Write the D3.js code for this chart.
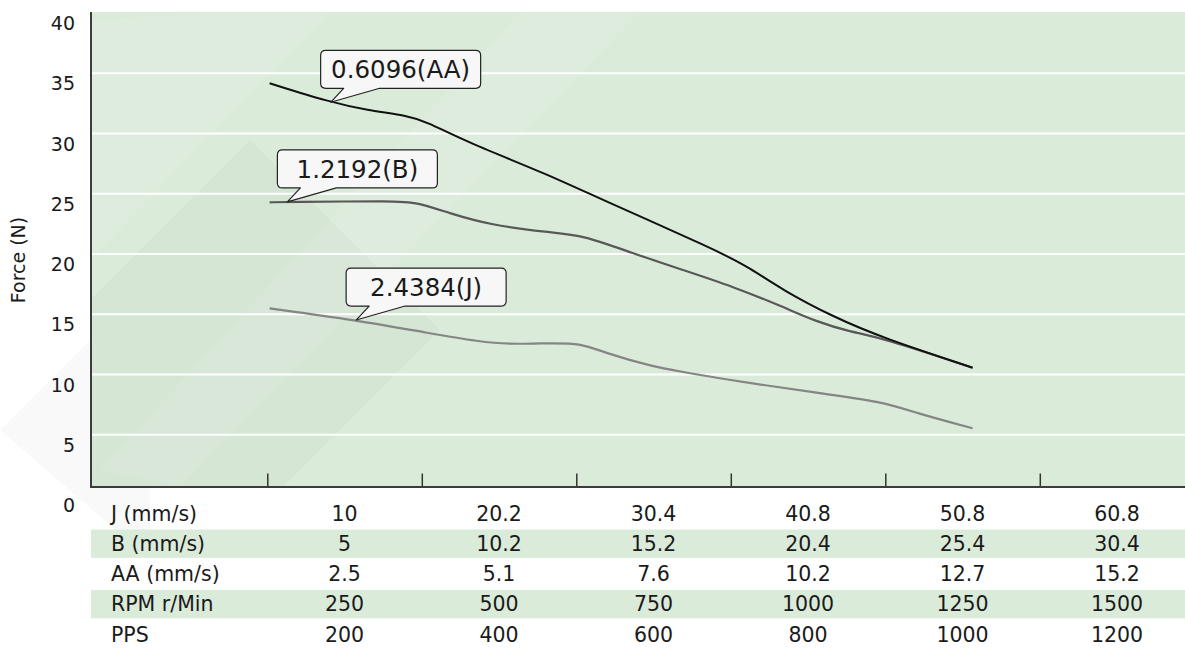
<!DOCTYPE html>
<html>
<head>
<meta charset="utf-8">
<script src="https://cdn.jsdelivr.net/npm/d3@7"></script>
<style>
  html, body { margin: 0; padding: 0; background: #ffffff; }
  svg { display: block; }
  text { font-family: "DejaVu Sans", sans-serif; fill: #1a1a1a; }
</style>
</head>
<body>
<svg id="chart" width="1185" height="648"></svg>
<script>
// ---------------- data ----------------
// x values are pulse rates (PPS); y values are force (N)
const seriesNames = ["AA", "B", "J"];
const labelTexts = ["0.6096(AA)", "1.2192(B)", "2.4384(J)"];
const anchorIndex = [1, 1, 1];

const forceAA = [
  [103, 34.17], [182, 32.59], [228, 31.95], [284, 31.45], [306, 30.98],
  [357, 29.32], [465, 26.56], [534, 24.48], [681, 20.33], [725, 18.84],
  [767, 17.01], [832, 14.80], [897, 13.03], [1013, 10.56]
];
const forceB = [
  [103, 24.29], [126, 24.32], [267, 24.40], [293, 24.29], [336, 23.38],
  [388, 22.41], [465, 21.78], [508, 21.58], [573, 20.06], [638, 18.67],
  [703, 17.29], [767, 15.63], [811, 14.38], [854, 13.55], [897, 13.03],
  [1013, 10.56]
];
const forceJ = [
  [103, 15.49], [215, 14.52], [310, 13.42], [375, 12.72], [414, 12.51],
  [452, 12.59], [495, 12.59], [513, 12.39], [547, 11.62], [591, 10.79],
  [634, 10.23], [725, 9.27], [811, 8.49], [897, 7.74], [941, 6.78],
  [1013, 5.54]
];

const yTicks = [0, 5, 10, 15, 20, 25, 30, 35, 40];
const xTickPPS = [100, 300, 500, 700, 900, 1100];

const rowLabels = ["J (mm/s)", "B (mm/s)", "AA (mm/s)", "RPM r/Min", "PPS"];
const speedJ = [10, 20.2, 30.4, 40.8, 50.8, 60.8];
const speedB = [5, 10.2, 15.2, 20.4, 25.4, 30.4];
const speedAA = [2.5, 5.1, 7.6, 10.2, 12.7, 15.2];
const rpm = [250, 500, 750, 1000, 1250, 1500];
const pps = [200, 400, 600, 800, 1000, 1200];

// ---------------- layout ----------------
const W = 1185, H = 648;
const plotLeft = 91, plotTop = 12, plotBottom = 487, plotRight = W;
const green = "#dbebda";
const lineColors = { AA: "#111111", B: "#585858", J: "#858585" };

const svg = d3.select("#chart");

const x = d3.scaleLinear().domain([100, 1300]).range([267.3, 1194.3]);
const y = d3.scaleLinear().domain([0, 40]).range([495, 13]);
const rowScale = d3.scaleBand().domain(rowLabels).range([498.4, 498.4 + 30.2 * rowLabels.length]);

// faint watermark outside the plot (left)
svg.append("path")
  .attr("d", "M0,430 L150,280 L150,560 Z")
  .attr("fill", "#000000").attr("opacity", 0.025);

// plot background
svg.append("rect")
  .attr("x", plotLeft).attr("y", plotTop)
  .attr("width", plotRight - plotLeft).attr("height", plotBottom - plotTop)
  .attr("fill", green);

// faint watermark shapes (clipped to the plot)
svg.append("clipPath").attr("id", "plotClip")
  .append("rect").attr("x", plotLeft).attr("y", plotTop)
  .attr("width", plotRight - plotLeft).attr("height", plotBottom - plotTop);
const wm = svg.append("g").attr("clip-path", "url(#plotClip)");
wm.append("path")
  .attr("d", "M100,470 L520,12 L640,12 L180,487 Z")
  .attr("fill", "#ffffff").attr("opacity", 0.08);
wm.append("path")
  .attr("d", "M90,300 L250,140 L440,330 L280,490 L90,490 Z")
  .attr("fill", "#000000").attr("opacity", 0.018);
wm.append("path")
  .attr("d", "M90,20 L200,12 L330,12 L90,260 Z")
  .attr("fill", "#ffffff").attr("opacity", 0.06);

// gridlines
svg.append("g").selectAll("line")
  .data(yTicks.filter(v => v > 0 && v < 40))
  .join("line")
  .attr("x1", plotLeft + 1).attr("x2", plotRight)
  .attr("y1", d => y(d)).attr("y2", d => y(d))
  .attr("stroke", "#ffffff").attr("stroke-width", 2);

// table bands
svg.append("g").selectAll("rect")
  .data(rowLabels.filter((d, i) => i % 2 === 1))
  .join("rect")
  .attr("x", plotLeft).attr("width", plotRight - plotLeft)
  .attr("y", d => rowScale(d) + rowScale.bandwidth() / 2 - 14.2)
  .attr("height", 28.4)
  .attr("fill", green);

// axes
const yAxis = d3.axisLeft(y).tickValues(yTicks).tickSize(0).tickPadding(16);
const gy = svg.append("g").attr("transform", `translate(${plotLeft},0)`).call(yAxis);
gy.select(".domain").remove();
gy.selectAll("text")
  .attr("transform", "translate(0,10.5)")
  .style("font-size", "19px")
  .style("font-family", "'DejaVu Sans', sans-serif")
  .attr("fill", "#1a1a1a");

const xAxis = d3.axisBottom(x).tickValues(xTickPPS).tickSize(-13.5).tickFormat("");
const gx = svg.append("g").attr("transform", `translate(0,${plotBottom})`).call(xAxis);
gx.select(".domain").remove();
gx.selectAll("line").attr("stroke", "#333").attr("stroke-width", 1.5);

svg.append("line")
  .attr("x1", plotLeft).attr("x2", plotLeft)
  .attr("y1", plotTop).attr("y2", plotBottom + 1)
  .attr("stroke", "#3c3c3c").attr("stroke-width", 2);
svg.append("line")
  .attr("x1", plotLeft - 1).attr("x2", plotRight)
  .attr("y1", plotBottom).attr("y2", plotBottom)
  .attr("stroke", "#3c3c3c").attr("stroke-width", 2);

// y axis title
svg.append("text")
  .attr("transform", "translate(25,260) rotate(-90)")
  .attr("text-anchor", "middle")
  .style("font-size", "19px")
  .text("Force (N)");

// lines
const seriesData = { AA: forceAA, B: forceB, J: forceJ };
const line = d3.line()
  .x(d => x(d[0])).y(d => y(d[1]))
  .curve(d3.curveBasis);

const drawOrder = ["J", "B", "AA"];
svg.append("g").selectAll("path")
  .data(drawOrder)
  .join("path")
  .attr("d", k => line(seriesData[k]))
  .attr("fill", "none")
  .attr("stroke", k => lineColors[k])
  .attr("stroke-width", k => k === "AA" ? 2 : 2.2)
  .attr("stroke-linejoin", "round");

// callout labels
const bw = 160, bh = 38, r = 5, gap = 14, nl = 13, nr = 49, off = 10;
function calloutPath(tx, ty) {
  const L = tx - off, R = L + bw, B = ty - gap, T = B - bh;
  return `M${L + r},${T} L${R - r},${T} Q${R},${T} ${R},${T + r} L${R},${B - r} Q${R},${B} ${R - r},${B}` +
    ` L${tx + nr},${B} L${tx},${ty} L${tx + nl},${B}` +
    ` L${L + r},${B} Q${L},${B} ${L},${B - r} L${L},${T + r} Q${L},${T} ${L + r},${T} Z`;
}
const callouts = svg.append("g");
seriesNames.forEach((k, i) => {
  const p = seriesData[k][anchorIndex[i]];
  const tx = x(p[0]), ty = y(p[1]);
  callouts.append("path")
    .attr("d", calloutPath(tx, ty))
    .attr("fill", "#f7f7f7")
    .attr("stroke", "#222")
    .attr("stroke-width", 1.2)
    .attr("stroke-linejoin", "round");
  callouts.append("text")
    .attr("x", tx - off + bw / 2)
    .attr("y", ty - gap - bh / 2)
    .attr("dy", "0.36em")
    .attr("text-anchor", "middle")
    .style("font-size", "24.5px")
    .text(labelTexts[i]);
});

// table
const tableRows = [speedJ, speedB, speedAA, rpm, pps];
const tg = svg.append("g").style("font-size", "20.5px");
tg.selectAll("text.rowlabel")
  .data(rowLabels)
  .join("text")
  .attr("class", "rowlabel")
  .attr("x", 111)
  .attr("y", d => rowScale(d) + rowScale.bandwidth() / 2)
  .attr("dy", "0.36em")
  .text(d => d);

rowLabels.forEach((lab, i) => {
  tg.selectAll(null)
    .data(tableRows[i].map((v, j) => ({ v, p: pps[j] })))
    .join("text")
    .attr("x", d => x(d.p))
    .attr("y", rowScale(lab) + rowScale.bandwidth() / 2)
    .attr("dy", "0.36em")
    .attr("text-anchor", "middle")
    .text(d => String(d.v));
});
</script>
</body>
</html>
